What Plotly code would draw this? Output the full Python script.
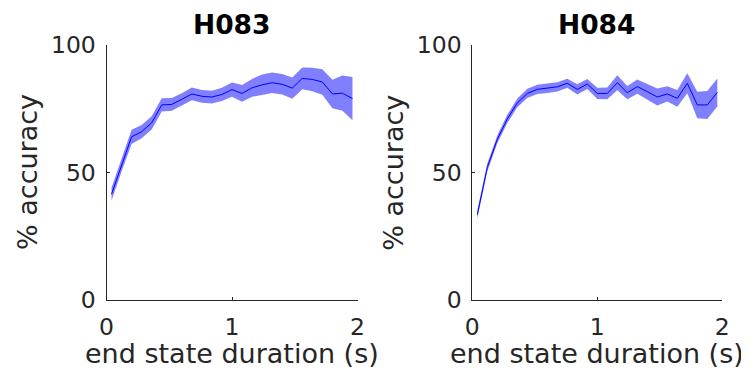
import plotly.graph_objects as go

# ---- data ----
duration_s = [0.04, 0.12, 0.20, 0.28, 0.36, 0.44, 0.52, 0.60, 0.68, 0.76, 0.84, 0.92, 1.00,
              1.08, 1.16, 1.24, 1.32, 1.40, 1.48, 1.56, 1.64, 1.72, 1.80, 1.88, 1.96]

h083_acc = [41.5, 53.0, 64.0, 66.0, 69.5, 76.5, 76.7, 78.7, 80.8, 79.9, 79.6, 80.6, 82.5,
            81.0, 83.2, 84.4, 85.2, 84.6, 83.1, 86.9, 86.5, 85.5, 80.8, 81.1, 79.0]
h083_err = [2.5, 2.6, 2.8, 2.6, 2.6, 2.6, 2.5, 2.4, 2.5, 2.5, 2.5, 2.6, 2.8,
            3.3, 3.5, 4.0, 4.0, 4.0, 4.2, 4.3, 4.6, 5.0, 5.6, 6.9, 8.5]

h084_acc = [33.5, 52.0, 63.0, 71.0, 77.3, 81.0, 82.6, 83.0, 83.6, 85.0, 82.6, 84.7, 81.0,
            81.0, 85.2, 81.3, 83.7, 81.7, 79.6, 80.8, 79.1, 85.0, 76.5, 76.5, 81.4]
h084_err = [1.5, 1.5, 1.5, 1.6, 1.7, 1.8, 1.8, 1.8, 1.8, 1.8, 2.0, 2.0, 2.2,
            2.3, 2.9, 2.6, 2.8, 3.0, 3.3, 3.0, 3.3, 3.9, 5.2, 5.5, 5.5]

titles = ["H083", "H084"]
x_ticks = [0, 1, 2]
y_ticks = [0, 50, 100]
x_label = "end state duration (s)"
y_label = "% accuracy"

# ---- layout ----
OFF = 8                      # page body margin
W, H = 749 - OFF, 378 - OFF  # figure size so the page fits the window
FONT = "DejaVu Sans"
AX = "#262626"
BAND = "rgba(0,0,255,0.5)"
LINE = "rgb(0,0,255)"


def px(sx):
    return (sx - OFF) / W


def py(sy):
    return (H - (sy - OFF)) / H


x_domains = [[px(106.5), px(357.5)], [px(472.3), px(722.3)]]
y_domain = [py(300), py(45)]

fig = go.Figure()
series = [(h083_acc, h083_err), (h084_acc, h084_err)]
for i, (acc, err) in enumerate(series):
    xa = "x" if i == 0 else "x2"
    ya = "y" if i == 0 else "y2"
    upper = [a + e for a, e in zip(acc, err)]
    lower = [a - e for a, e in zip(acc, err)]
    fig.add_trace(go.Scatter(
        x=duration_s + duration_s[::-1], y=upper + lower[::-1],
        fill="toself", fillcolor=BAND, line=dict(width=0), mode="lines",
        hoverinfo="skip", showlegend=False, xaxis=xa, yaxis=ya))
    fig.add_trace(go.Scatter(
        x=duration_s, y=acc, mode="lines", line=dict(color=LINE, width=1),
        showlegend=False, xaxis=xa, yaxis=ya))

axis_common = dict(
    showline=True, linecolor=AX, linewidth=1, mirror=False, showgrid=False,
    zeroline=False, ticks="inside", ticklen=3, tickwidth=1, tickcolor=AX,
    tickfont=dict(family=FONT, size=23.5, color=AX), automargin=False,
)

layout = dict(
    width=W, height=H, margin=dict(l=0, r=0, t=0, b=0, autoexpand=False),
    plot_bgcolor="white", paper_bgcolor="white", showlegend=False,
)
for i in range(2):
    sx = "" if i == 0 else "2"
    layout["xaxis" + sx] = dict(axis_common, domain=x_domains[i], range=[0, 2],
                                tickvals=x_ticks, ticktext=[str(t) for t in x_ticks],
                                anchor="y" + sx, ticklabelstandoff=6)
    layout["yaxis" + sx] = dict(axis_common, domain=y_domain, range=[0, 100],
                                tickvals=y_ticks, ticktext=[str(t) for t in y_ticks],
                                anchor="x" + sx, ticklabelstandoff=5)
fig.update_layout(**layout)

centers = [(106.5 + 357.5) / 2, (472.3 + 722.3) / 2]
left_edges = [106.5, 472.3]
annotations = []
for i in range(2):
    annotations.append(dict(text="<b>" + titles[i] + "</b>", x=px(centers[i]), y=py(25),
                            xref="paper", yref="paper", showarrow=False,
                            xanchor="center", yanchor="middle",
                            font=dict(family=FONT, size=26.5, color="black")))
    annotations.append(dict(text=x_label, x=px(centers[i]), y=py(353),
                            xref="paper", yref="paper", showarrow=False,
                            xanchor="center", yanchor="middle",
                            font=dict(family=FONT, size=27, color=AX)))
    annotations.append(dict(text=y_label, x=px(left_edges[i] - 79), y=py(172.5),
                            xref="paper", yref="paper", showarrow=False, textangle=-90,
                            xanchor="center", yanchor="middle",
                            font=dict(family=FONT, size=27, color=AX)))
fig.update_layout(annotations=annotations)

fig.write_html("out.html")
